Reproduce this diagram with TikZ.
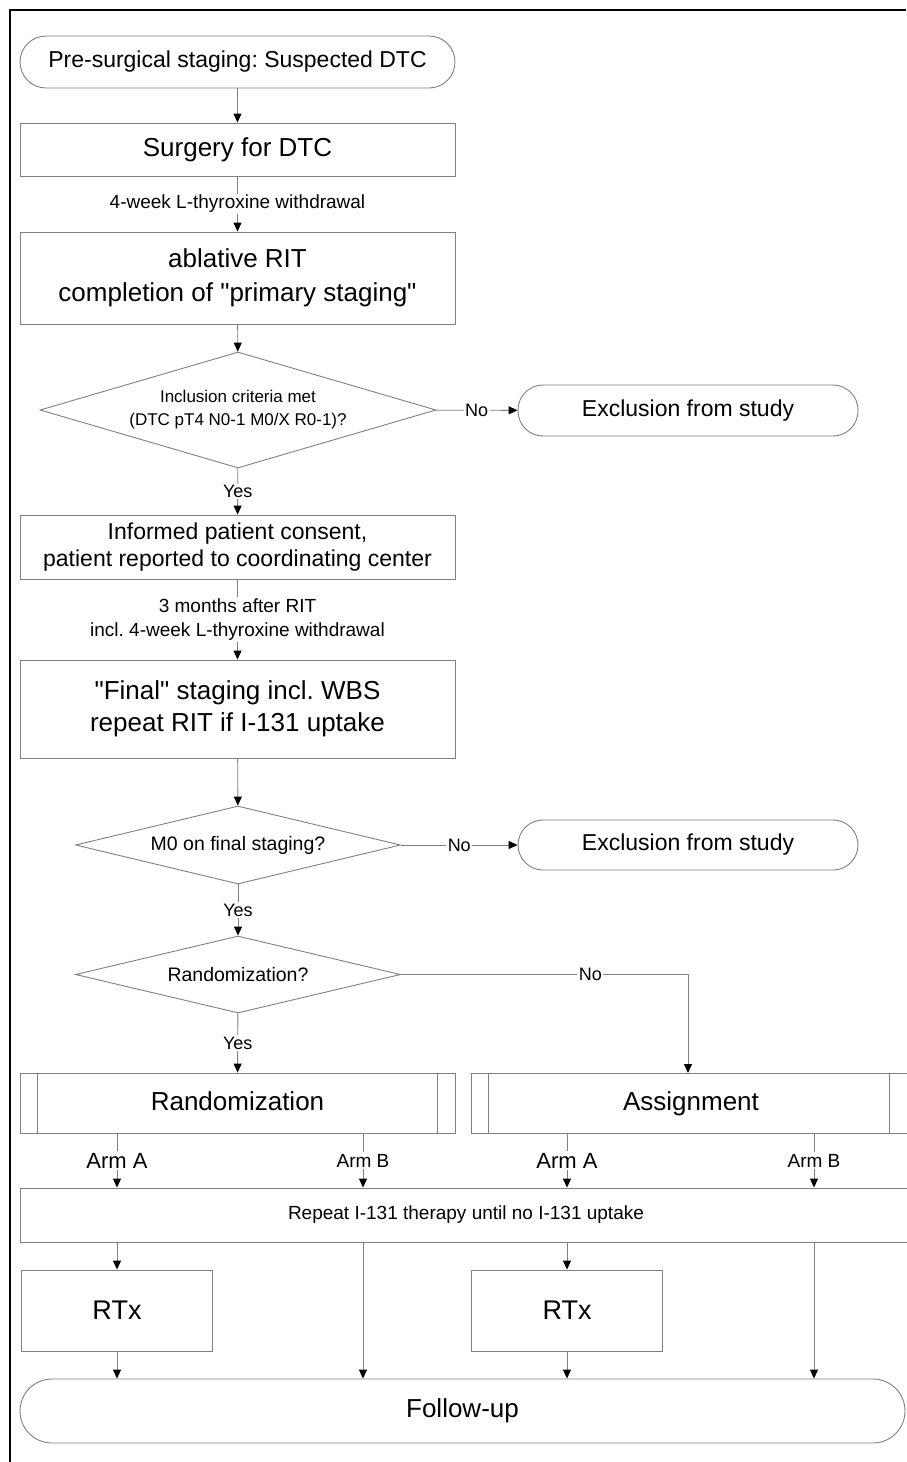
\documentclass[tikz,border=0pt]{standalone}
\usepackage{fontspec}
\setmainfont{Liberation Sans}[Ligatures=TeXOff]
\usetikzlibrary{shapes.geometric,arrows.meta}
\definecolor{edgegray}{HTML}{808080}
\newcommand{\fsz}[2]{\fontsize{#1}{#2}\selectfont}
\frenchspacing
\begin{document}
\begin{tikzpicture}[x=1pt,y=-1pt,
  box/.style={draw=edgegray,line width=0.9pt,rectangle,inner sep=0pt,align=center},
  term/.style={box,rounded corners=#1},
  dec/.style={draw=edgegray,line width=0.9pt,diamond,inner sep=0pt,align=center},
  conn/.style={draw=edgegray,line width=0.9pt},
  arr/.style={conn,-{Triangle[length=9pt,width=8pt,color=black]}},
  lab/.style={fill=white,inner sep=1.5pt,align=center,font=\fsz{18}{22}},
  armlab/.style={fill=white,inner sep=1.5pt,font=\fsz{#1}{#1}}]
\useasboundingbox (0,0) rectangle (906,1462);
\fill[white] (0,0) rectangle (906,1462);
% frame
\draw[black,line width=1.5pt] (10,1462) -- (10,10) -- (906,10);

\node[term=26pt,minimum width=435pt,minimum height=52pt,font=\fsz{23}{27}] (pre) at (237.5,62) {Pre-surgical staging: Suspected DTC};
\node[box,minimum width=435pt,minimum height=53pt,font=\fsz{26}{31}] (surg) at (237.5,149.5) {Surgery for DTC};
\node[box,minimum width=435pt,minimum height=92pt,font=\fsz{26}{34}] (abl) at (237.5,278) {ablative RIT\\completion of "primary staging"};
\node[dec,minimum width=396pt,minimum height=116pt,aspect=3.4,font=\fsz{17}{23}] (d1) at (238,410) {Inclusion criteria met\\(DTC pT4 N0-1 M0/X R0-1)?};
\node[term=25pt,minimum width=340pt,minimum height=51pt,font=\fsz{23}{27}] (ex1) at (688,410.5) {Exclusion from study};
\node[box,minimum width=435pt,minimum height=64pt,font=\fsz{23}{27}] (cons) at (237.5,547) {Informed patient consent,\\patient reported to coordinating center};
\node[box,minimum width=435pt,minimum height=98pt,font=\fsz{26}{32}] (fin) at (237.5,709) {"Final" staging incl. WBS\\repeat RIT if I-131 uptake};
\node[dec,minimum width=325pt,minimum height=78pt,aspect=4.2,font=\fsz{19.5}{23}] (d2) at (238,845) {M0 on final staging?};
\node[term=25pt,minimum width=340pt,minimum height=50pt,font=\fsz{23}{27}] (ex2) at (688,845) {Exclusion from study};
\node[dec,minimum width=325pt,minimum height=77pt,aspect=4.2,font=\fsz{19.5}{23}] (d3) at (238,974.5) {Randomization?};
\node[box,minimum width=435pt,minimum height=60pt,text height=19pt,text depth=5pt,font=\fsz{26}{31}] (rand) at (237.5,1103) {Randomization};
\node[box,minimum width=440pt,minimum height=60pt,text height=19pt,text depth=5pt,font=\fsz{26}{31}] (assign) at (691,1103) {Assignment};
\draw[conn] ([xshift=18pt]rand.north west) -- ([xshift=18pt]rand.south west);
\draw[conn] ([xshift=-18pt]rand.north east) -- ([xshift=-18pt]rand.south east);
\draw[conn] ([xshift=18pt]assign.north west) -- ([xshift=18pt]assign.south west);
\draw[conn] ([xshift=-22pt]assign.north east) -- ([xshift=-22pt]assign.south east);
\node[box,minimum width=892pt,minimum height=54pt,font=\fsz{19}{23}] (rep) at (466,1215) {Repeat I-131 therapy until no I-131 uptake};
\node[box,minimum width=191pt,minimum height=81pt,font=\fsz{27}{31}] (rtxA) at (117,1310.5) {RTx};
\node[box,minimum width=191pt,minimum height=81pt,font=\fsz{27}{31}] (rtxB) at (567,1310.5) {RTx};
\node[term=32pt,minimum width=885pt,minimum height=64pt,font=\fsz{26}{31}] (fu) at (462.5,1411) {Follow-up};

\coordinate (xas) at (688,1073);
\coordinate (xa1) at (117,1160);
\coordinate (xb1) at (363,1160);
\coordinate (xa2) at (567,1160);
\coordinate (xb2) at (814,1160);

% main column
\draw[arr] (pre) -- (surg);
\draw[arr] (surg) -- node[lab,font=\fsz{19}{23}]{4-week L-thyroxine withdrawal} (abl);
\draw[arr] (abl) -- (d1);
\draw[arr] (d1) -- node[lab]{No} (ex1);
\draw[arr] (d1) -- node[lab]{Yes} (cons);
\draw[arr] (cons) -- node[lab,font=\fsz{19}{24}]{3 months after RIT\\incl. 4-week L-thyroxine withdrawal} (fin);
\draw[arr] (fin) -- (d2);
\draw[arr] (d2) -- node[lab]{No} (ex2);
\draw[arr] (d2) -- node[lab]{Yes} (d3);
\draw[arr] (d3) -- node[lab]{Yes} (rand);
\draw[arr] (d3.east) -| node[lab,pos=0.33]{No} (xas);

% arms
\draw[arr] (rand.south -| xa1) -- node[armlab=22]{Arm A} (rep.north -| xa1);
\draw[arr] (rand.south -| xb1) -- node[armlab=19]{Arm B} (rep.north -| xb1);
\draw[arr] (assign.south -| xa2) -- node[armlab=22]{Arm A} (rep.north -| xa2);
\draw[arr] (assign.south -| xb2) -- node[armlab=19]{Arm B} (rep.north -| xb2);

\draw[arr] (rep.south -| rtxA) -- (rtxA);
\draw[arr] (rep.south -| rtxB) -- (rtxB);
\draw[arr] (rtxA) -- (fu.north -| rtxA);
\draw[arr] (rtxB) -- (fu.north -| rtxB);
\draw[arr] (rep.south -| xb1) -- (fu.north -| xb1);
\draw[arr] (rep.south -| xb2) -- (fu.north -| xb2);
\end{tikzpicture}
\end{document}
